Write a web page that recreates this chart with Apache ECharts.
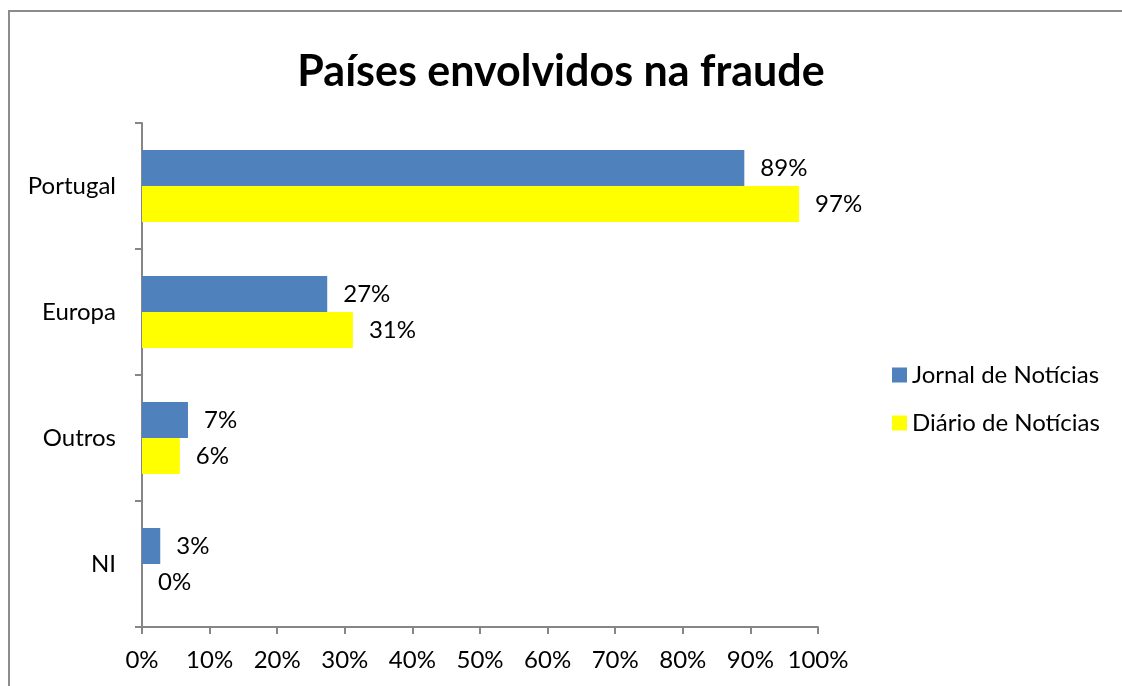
<!DOCTYPE html>
<html>
<head>
<meta charset="utf-8">
<title>Países envolvidos na fraude</title>
<script src="https://cdn.jsdelivr.net/npm/echarts@6/dist/echarts.min.js"></script>
<style>
  html, body { margin: 0; padding: 0; background: #fff; }
  #chart { width: 1122px; height: 686px; }
</style>
</head>
<body>
<div id="chart"></div>
<script>
// dados (percentagens)
const categories = ['Portugal', 'Europa', 'Outros', 'NI']
const jornalValues = [89.1, 27.4, 6.8, 2.7]
const diarioValues = [97.2, 31.2, 5.6, 0]
const seriesNames = ['Jornal de Notícias', 'Diário de Notícias']
const xTicks = [0, 10, 20, 30, 40, 50, 60, 70, 80, 90, 100]

const font = 'Lato, "Noto Sans", sans-serif'
const axisGray = '#868686'

const chart = echarts.init(document.getElementById('chart'))

const barLabel = {
  show: true,
  position: 'right',
  distance: 16,
  color: '#000',
  fontFamily: font,
  fontSize: 24,
  formatter: (p) => `${Math.round(p.value)}%`
}

chart.setOption({
  animation: false,
  title: {
    text: 'Países envolvidos na fraude',
    left: 'center',
    top: 46,
    textStyle: {
      fontFamily: font,
      fontSize: 43,
      fontWeight: 'bold',
      color: '#000'
    }
  },
  // moldura (só esquerda e topo visíveis)
  graphic: [{
    type: 'polyline',
    shape: { points: [[9, 700], [9, 11], [1140, 11]] },
    style: { fill: 'none', stroke: '#8c8c8c', lineWidth: 2 },
    silent: true
  }],
  legend: {
    orient: 'vertical',
    left: 887,
    top: 358,
    itemWidth: 15,
    itemHeight: 15,
    itemGap: 24,
    icon: 'rect',
    data: seriesNames,
    textStyle: {
      fontFamily: font,
      fontSize: 24,
      lineHeight: 24,
      color: '#000'
    }
  },
  grid: {
    left: 142,
    right: 304,
    top: 123,
    bottom: 59,
    containLabel: false
  },
  xAxis: {
    type: 'value',
    min: xTicks[0],
    max: xTicks[xTicks.length - 1],
    interval: 10,
    splitLine: { show: false },
    axisLine: { show: true, lineStyle: { color: axisGray, width: 2 } },
    axisTick: { show: true, length: 7, lineStyle: { color: axisGray, width: 2 } },
    axisLabel: {
      margin: 21,
      color: '#000',
      fontFamily: font,
      fontSize: 24,
      formatter: '{value}%'
    }
  },
  yAxis: {
    type: 'category',
    data: categories,
    inverse: true,
    axisLine: { show: true, lineStyle: { color: axisGray, width: 2 } },
    axisTick: { show: true, length: 7, lineStyle: { color: axisGray, width: 2 } },
    axisLabel: {
      margin: 26,
      color: '#000',
      fontFamily: font,
      fontSize: 24
    }
  },
  series: [
    {
      name: seriesNames[0],
      type: 'bar',
      data: jornalValues,
      barWidth: 36,
      barGap: '0%',
      itemStyle: { color: '#4F81BD' },
      label: barLabel
    },
    {
      name: seriesNames[1],
      type: 'bar',
      data: diarioValues,
      barWidth: 36,
      barGap: '0%',
      itemStyle: { color: '#FFFF00' },
      label: barLabel
    }
  ]
})
</script>
</body>
</html>
